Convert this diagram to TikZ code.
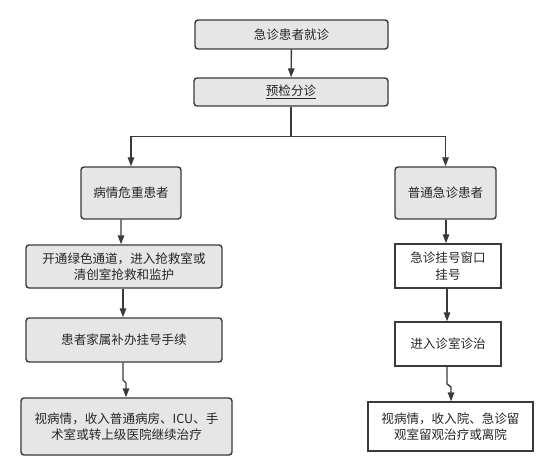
\documentclass[tikz,border=0pt]{standalone}
\usepackage{fontspec}
\setmainfont{Noto Sans CJK SC}
\usetikzlibrary{arrows.meta}
\definecolor{boxgray}{HTML}{E6E6E6}
\definecolor{linegray}{HTML}{3A3A3A}
\begin{document}
\begin{tikzpicture}[x=1bp,y=-1bp,
  every node/.style={font=\fontsize{12.6}{16.5}\selectfont, align=center, inner sep=0pt, text=black!85},
  graybox/.style={draw=linegray, line width=1.4bp, fill=boxgray, rounded corners=3bp},
  whitebox/.style={draw=linegray, line width=1.4bp, fill=white},
  conn/.style={draw=linegray, line width=1.4bp},
  arr/.style={conn, -{Triangle[length=9bp,width=6.5bp]}}]
\useasboundingbox (0,0) rectangle (553,476);
\node[graybox, minimum width=193bp, minimum height=29bp] (b1) at (291.5,34.5) {急诊患者就诊};
\node[graybox, minimum width=194bp, minimum height=28bp] (b2) at (291,92) {\underline{预检分诊}};
\node[graybox, minimum width=100bp, minimum height=52bp] (b3) at (131,193) {病情危重患者};
\node[graybox, minimum width=196bp, minimum height=43bp] (b4) at (124,266.5) {开通绿色通道，进入抢救室或\\清创室抢救和监护};
\node[graybox, minimum width=196bp, minimum height=44bp] (b5) at (124,340) {患者家属补办挂号手续};
\node[graybox, minimum width=211bp, minimum height=57bp] (b6) at (126.5,426.5) {视病情，收入普通病房、ICU、手\\术室或转上级医院继续治疗};
\node[graybox, minimum width=101bp, minimum height=52bp] (r1) at (445.5,193) {普通急诊患者};
\node[whitebox, minimum width=106bp, minimum height=44bp] (r2) at (448,266) {急诊挂号窗口\\挂号};
\node[whitebox, minimum width=106bp, minimum height=44bp] (r3) at (448,344) {进入诊室诊治};
\node[whitebox, minimum width=165bp, minimum height=49bp] (r4) at (450.5,426.5) {视病情，收入院、急诊留\\观室留观治疗或离院};
\coordinate (split) at (291,136.5);
\coordinate (jl1) at (123,380);
\coordinate (jl2) at (126,383);
\coordinate (jr1) at (447,384);
\coordinate (jr2) at (451,387);
\draw[arr] (b1) -- (b2);
\draw[conn] (b2) -- (split);
\draw[arr] (split) -| (b3);
\draw[arr] (split) -| (r1);
\draw[arr] ([xshift=-10bp]b3.south) -- ([xshift=-3bp]b4.north);
\draw[arr] ([xshift=-1bp]b4.south) -- ([xshift=-1bp]b5.north);
\draw[arr] ([xshift=-1bp]b5.south) -- (jl1) -- (jl2) -- ([xshift=-0.5bp]b6.north);
\draw[arr] ([xshift=0.5bp]r1.south) -- ([xshift=-2bp]r2.north);
\draw[arr] ([xshift=-1bp]r2.south) -- ([xshift=-1bp]r3.north);
\draw[arr] ([xshift=-1bp]r3.south) -- (jr1) -- (jr2) -- ([xshift=0.5bp]r4.north);
\end{tikzpicture}
\end{document}
